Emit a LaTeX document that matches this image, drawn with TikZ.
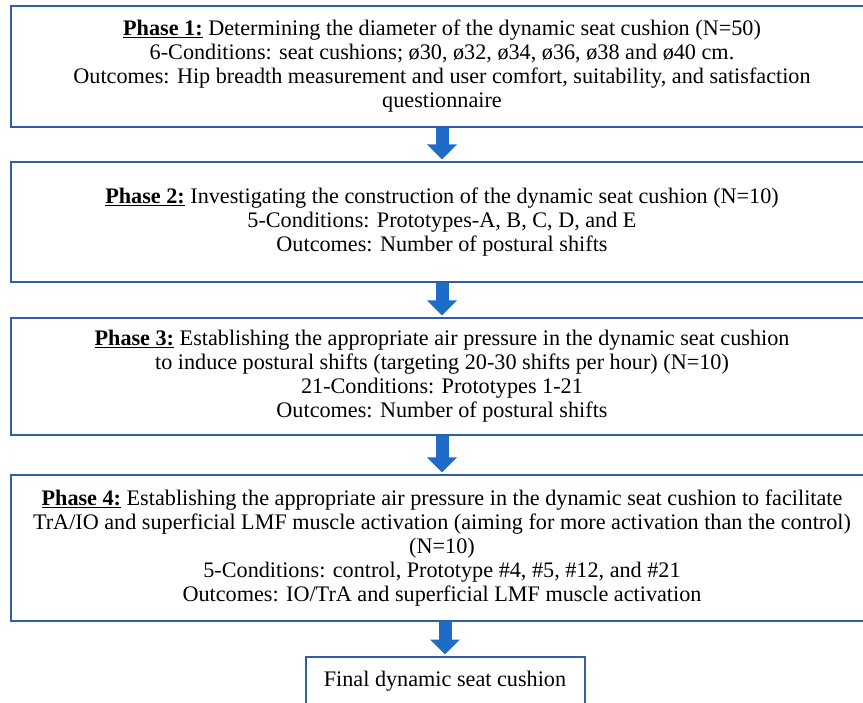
\documentclass[tikz,border=0pt]{standalone}
\usepackage{fontspec}
\setmainfont{Liberation Serif}
\usetikzlibrary{arrows.meta}
\definecolor{boxblue}{RGB}{46,95,168}
\definecolor{arrowblue}{RGB}{31,108,200}
\newcommand\phasehead[1]{\underline{\textbf{#1}}}
\begin{document}
\begin{tikzpicture}[x=1pt,y=-1pt,
  phasebox/.style={draw=boxblue, line width=2, fill=white, align=center,
    font=\fontsize{22.2}{24}\selectfont, inner sep=0, minimum width=862},
  finalbox/.style={draw=boxblue, line width=2, fill=white, align=center,
    font=\fontsize{22.2}{24}\selectfont, inner sep=0, minimum width=279, minimum height=49},
  blockarrow/.style={draw=arrowblue, line width=13,
    -{Triangle[width=29,length=15,fill=arrowblue]}, shorten >=1.5}]
\clip (0,0) rectangle (863,703);
\fill[white] (0,0) rectangle (863,703);
\node[phasebox, minimum height=121] (p1) at (442,66.5)
  {\phasehead{Phase 1:} Determining the diameter of the dynamic seat cushion (N=50)\\
   6-Conditions: seat cushions; ø30, ø32, ø34, ø36, ø38 and ø40 cm.\\
   Outcomes: Hip breadth measurement and user comfort, suitability, and satisfaction\\
   questionnaire};
\node[phasebox, minimum height=120] (p2) at (442,222)
  {\phasehead{Phase 2:} Investigating the construction of the dynamic seat cushion (N=10)\\
   5-Conditions: Prototypes-A, B, C, D, and E\\
   Outcomes: Number of postural shifts};
\node[phasebox, minimum height=117] (p3) at (442,376.5)
  {\phasehead{Phase 3:} Establishing the appropriate air pressure in the dynamic seat cushion\\
   to induce postural shifts (targeting 20-30 shifts per hour) (N=10)\\
   21-Conditions: Prototypes 1-21\\
   Outcomes: Number of postural shifts};
\node[phasebox, minimum height=146] (p4) at (442,548)
  {\phasehead{Phase 4:} Establishing the appropriate air pressure in the dynamic seat cushion to facilitate\\
   TrA/IO and superficial LMF muscle activation (aiming for more activation than the control)\\
   (N=10)\\
   5-Conditions: control, Prototype \#4, \#5, \#12, and \#21\\
   Outcomes: IO/TrA and superficial LMF muscle activation};
\node[finalbox] (fin) at (445,681.5) {Final dynamic seat cushion};
\draw[blockarrow] (p1.south) -- (p2.north);
\draw[blockarrow] (p2.south) -- (p3.north);
\draw[blockarrow] (p3.south) -- (p4.north);
\draw[blockarrow] (p4.south -| fin.north) -- (fin.north);
\end{tikzpicture}
\end{document}
